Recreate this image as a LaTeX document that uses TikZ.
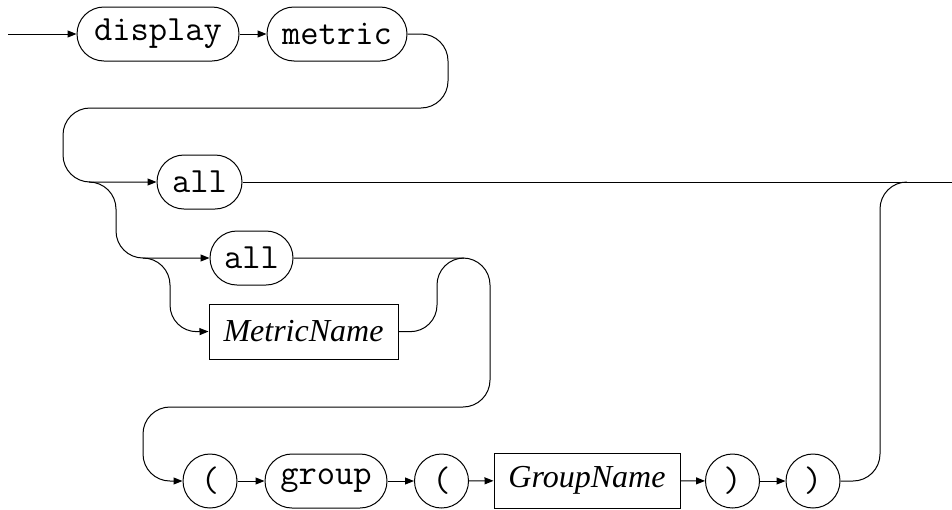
\documentclass[tikz,border=0pt]{standalone}
\usepackage{fontspec}
\setmainfont{Liberation Serif}
\usetikzlibrary{arrows.meta}
\tikzset{
  rail/.style={line width=1pt, rounded corners=27pt},
  arr/.style={-{Triangle[length=9pt,width=7pt]}},
  term/.style={draw, line width=1pt, rounded corners=27pt, minimum height=54pt, inner sep=0pt, font=\fontsize{35.5}{35.5}\selectfont\ttfamily},
  punct/.style={draw, line width=1pt, circle, minimum size=54pt, inner sep=0pt, font=\fontsize{35.5}{35.5}\selectfont\ttfamily},
  nonterm/.style={draw, line width=1pt, minimum height=55pt, inner sep=0pt, font=\fontsize{32}{32}\selectfont\itshape},
}
\begin{document}
\begin{tikzpicture}[x=1pt, y=-1pt]
\useasboundingbox (0,0) rectangle (952,509);

% nodes
\node[term, minimum width=162pt] (display) at (158,34) {display};
\node[term, minimum width=140pt] (metric) at (337,34) {metric};
\node[term, minimum width=85pt] (allA) at (199.5,182) {all};
\node[term, minimum width=83pt] (allB) at (251.5,258) {all};
\node[nonterm, minimum width=189pt] (mname) at (303.5,331.5) {MetricName};
\node[punct] (lpA) at (210,481) {(};
\node[term, minimum width=122pt] (group) at (326,481) {group};
\node[punct] (lpB) at (441.5,481) {(};
\node[nonterm, minimum width=186pt] (gname) at (587,480.5) {GroupName};
\node[punct] (rpA) at (732.5,481) {)};
\node[punct] (rpB) at (813,481) {)};

\coordinate (start) at (8,34);
\coordinate (finish) at (961,182);
\coordinate (forkA) at (89,182);
\coordinate (forkB) at (143,258);
\coordinate (joinB) at (464,258);

% first row
\draw[rail, arr] (start) -- (display);
\draw[rail, arr] (display) -- (metric);
\draw[rail, arr] (metric.east) -- (448,34) -- (448,108) -- (63,108) -- (63,182) -- (allA.west);
\draw[rail, arr] (allA.east) -- (finish);

% choice between "all" and the metric list
\draw[rail, arr] (forkA) -- (116,182) -- (116,258) -- (allB.west);
\draw[rail, arr] (forkB) -- (170,258) -- (170,332) -- (mname.west);
\draw[rail] (mname.east) -- (437,332) -- (437,258) -- (joinB);
\draw[rail, arr] (allB.east) -- (490,258) -- (490,407) -- (143,407) -- (143,481) -- (lpA.west);

% group row
\draw[rail, arr] (lpA) -- (group);
\draw[rail, arr] (group) -- (lpB);
\draw[rail, arr] (lpB) -- (gname);
\draw[rail, arr] (gname) -- (rpA);
\draw[rail, arr] (rpA) -- (rpB);
\draw[rail] (rpB.east) -- (880,481) -- (880,182) -- (907,182);
\end{tikzpicture}
\end{document}
